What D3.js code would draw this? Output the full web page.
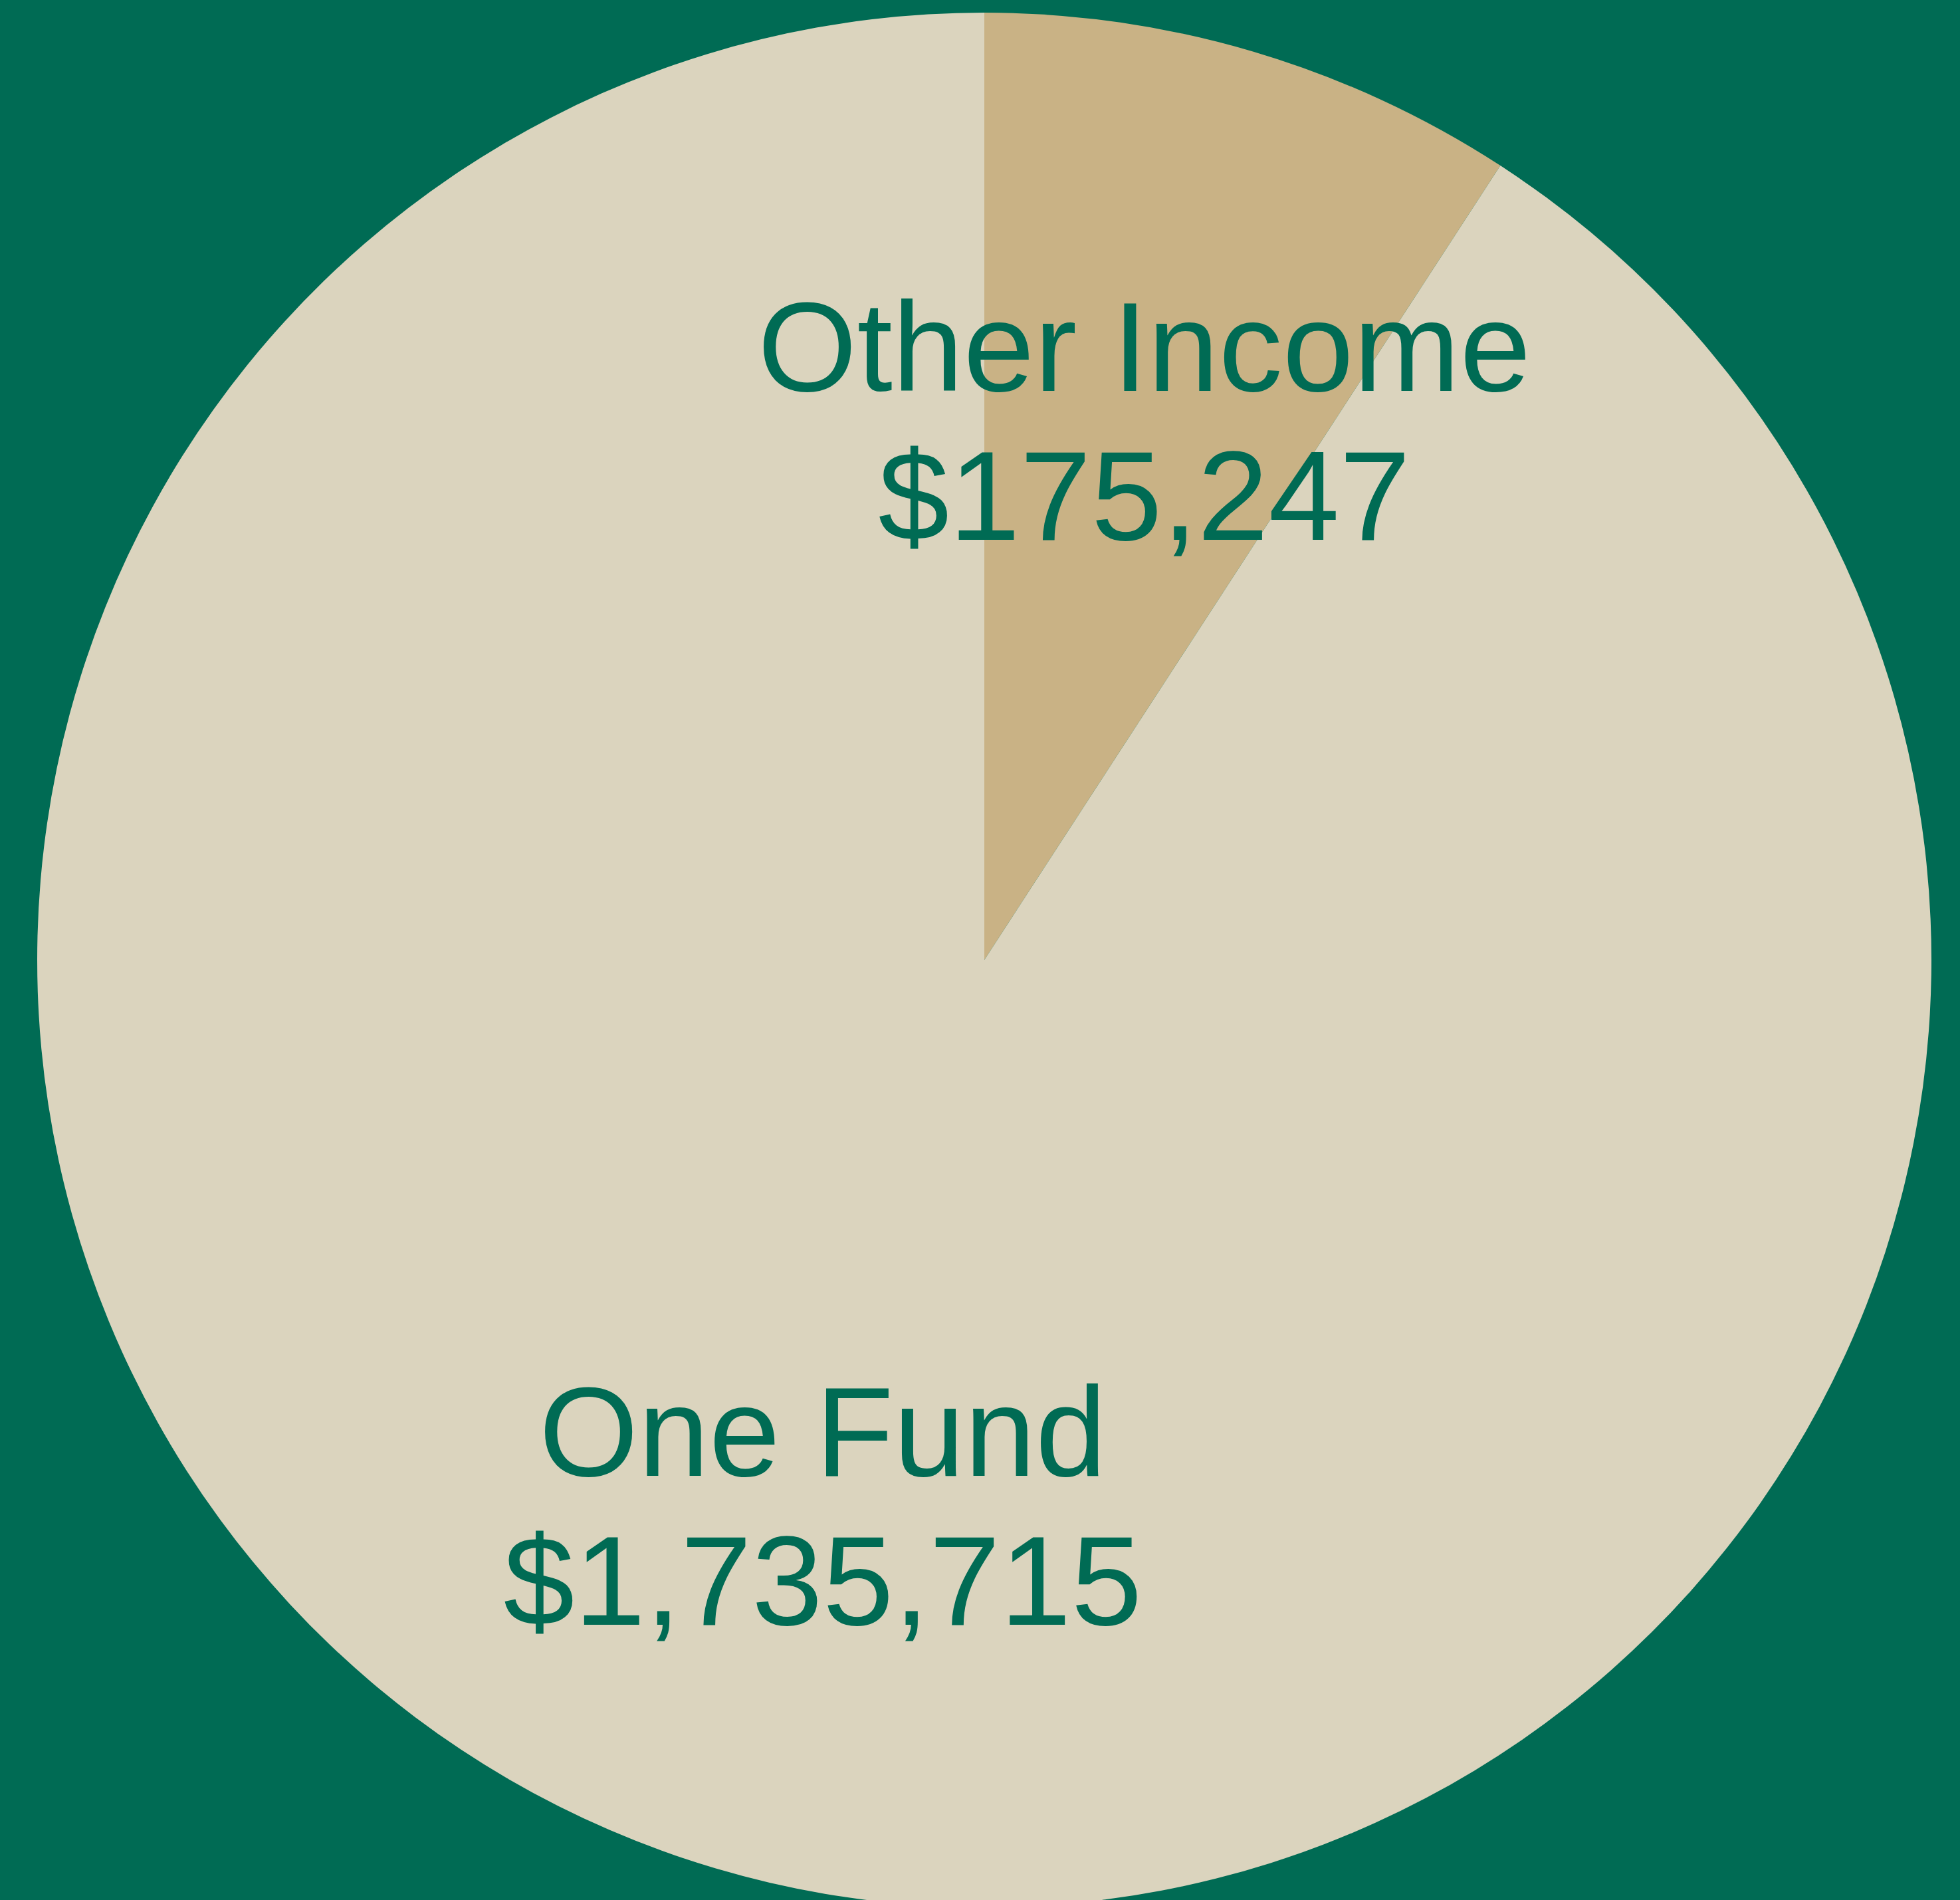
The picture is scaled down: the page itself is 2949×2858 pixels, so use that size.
<!DOCTYPE html>
<html>
<head>
<meta charset="utf-8">
<script src="https://cdn.jsdelivr.net/npm/d3@7"></script>
<style>
  html, body { margin: 0; padding: 0; background: #006b54; overflow: hidden; }
</style>
</head>
<body>
<div id="chart"></div>
<script>
const categories = ['Other Income', 'One Fund'];
const amounts = [175247, 1735715];
const sliceColors = ['#c9b285', '#dbd4be'];

const width = 2949;
const height = 2858;
const cx = 1481;
const cy = 1444;
const radius = 1425;

// label distance from center, as a fraction of the radius
const labelRadius = [0.55, 0.645];

const data = categories.map((c, i) => ({ name: c, value: amounts[i], i: i }));

const svg = d3.select('#chart')
  .append('svg')
  .attr('width', width)
  .attr('height', height);

svg.append('rect')
  .attr('width', width)
  .attr('height', height)
  .attr('fill', '#006b54');

const g = svg.append('g')
  .attr('transform', 'translate(' + cx + ',' + cy + ')');

const pie = d3.pie()
  .value(d => d.value)
  .sort(null);

const arc = d3.arc()
  .innerRadius(0)
  .outerRadius(radius);

const arcs = pie(data);

g.selectAll('path')
  .data(arcs)
  .enter()
  .append('path')
    .attr('d', arc)
    .attr('fill', d => sliceColors[d.data.i]);

const fmt = d3.format('$,');

const labels = g.selectAll('g.label')
  .data(arcs)
  .enter()
  .append('g')
    .attr('class', 'label')
    .attr('transform', d => {
      const r = radius * labelRadius[d.data.i];
      const c = d3.arc().innerRadius(r).outerRadius(r).centroid(d);
      return 'translate(' + (c[0] + 18) + ',' + (c[1] - 75) + ')';
    });

labels.append('text')
  .attr('text-anchor', 'middle')
  .attr('y', -30)
  .attr('fill', '#006b54')
  .style('font-family', '"Liberation Sans", Arial, sans-serif')
  .style('font-size', '192px')
  .text(d => d.data.name);

labels.append('text')
  .attr('text-anchor', 'middle')
  .attr('y', 194)
  .attr('fill', '#006b54')
  .style('font-family', '"Liberation Sans", Arial, sans-serif')
  .style('font-size', '192px')
  .text(d => fmt(d.data.value));
</script>
</body>
</html>
